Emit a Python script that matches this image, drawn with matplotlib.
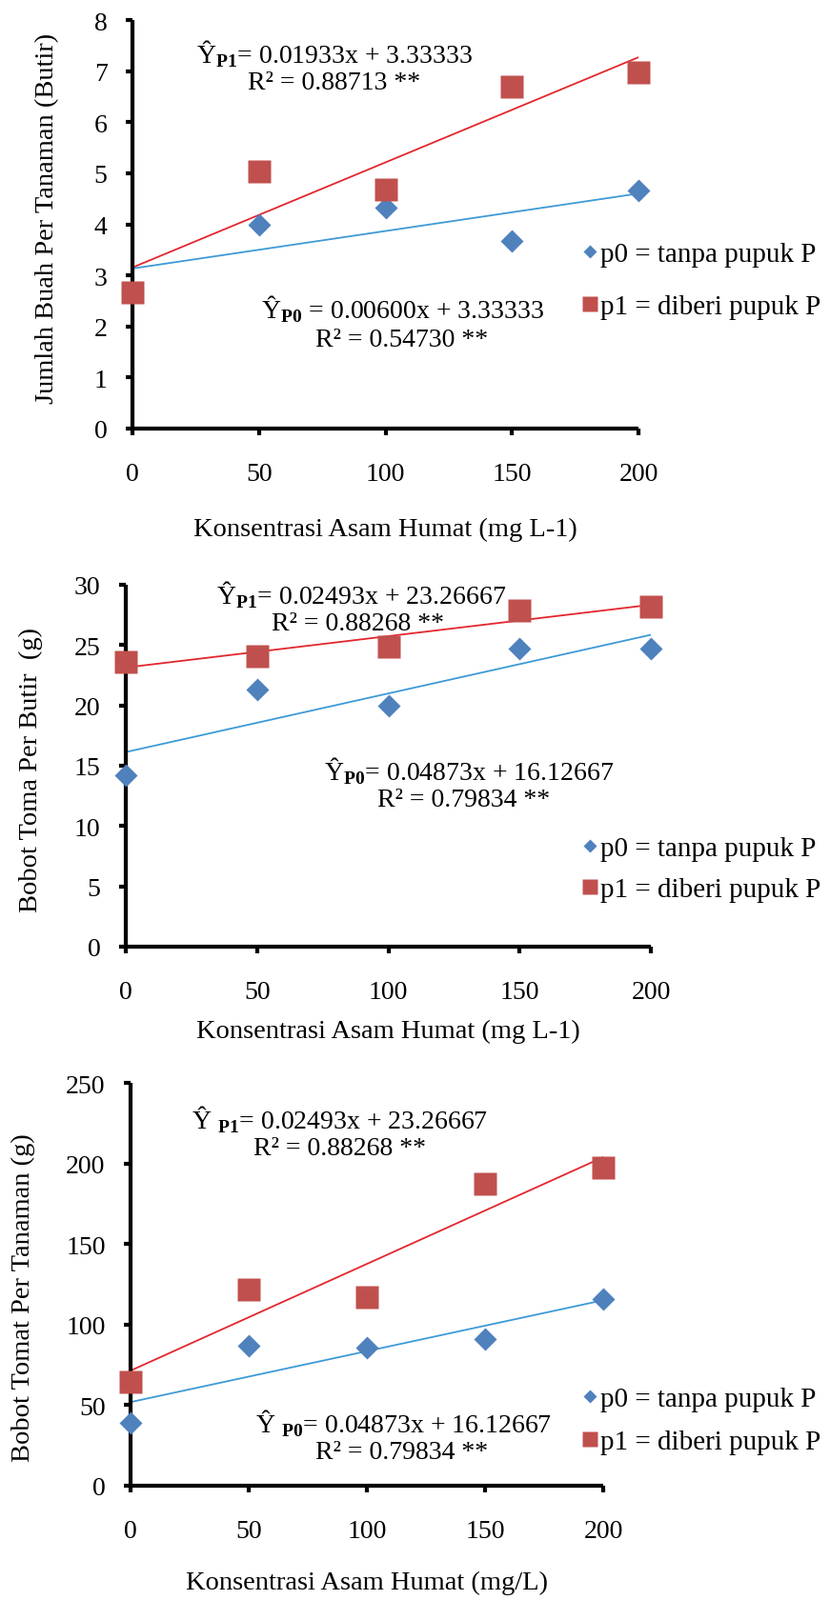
import numpy as np
import matplotlib.pyplot as plt
from matplotlib.lines import Line2D

plt.rcParams['font.family'] = ['Liberation Serif', 'DejaVu Serif']
plt.rcParams['mathtext.fontset'] = 'custom'
plt.rcParams['mathtext.rm'] = 'Liberation Serif'
plt.rcParams['mathtext.bf'] = 'Liberation Serif:bold'

# Konsentrasi asam humat
x = np.array([0, 50, 100, 150, 200])

# Panel 1: jumlah buah per tanaman
buah_p0 = [2.67, 4.00, 4.33, 3.67, 4.67]
buah_p1 = [2.67, 5.03, 4.68, 6.70, 6.98]

# Panel 2: bobot tomat per butir
butir_p0 = [14.25, 21.3, 20.0, 24.7, 24.7]
butir_p1 = [23.6, 24.1, 24.9, 27.9, 28.2]

# Panel 3: bobot tomat per tanaman
tanaman_p0 = [38.8, 86.6, 85.5, 91.0, 115.6]
tanaman_p1 = [64.7, 121.7, 116.9, 187.5, 197.4]

ylabels = ["Jumlah Buah Per Tanaman (Butir)",
           "Bobot Toma Per Butir  (g)",
           "Bobot Tomat Per Tanaman (g)"]
xlabels = ["Konsentrasi Asam Humat (mg L-1)",
           "Konsentrasi Asam Humat (mg L-1)",
           "Konsentrasi Asam Humat (mg/L)"]
eq_p1 = ["Ŷ$_{\\mathbf{P1}}$= 0.01933x + 3.33333",
         "Ŷ$_{\\mathbf{P1}}$= 0.02493x + 23.26667",
         "Ŷ $_{\\mathbf{P1}}$= 0.02493x + 23.26667"]
r2_p1 = ["R² = 0.88713 **", "R² = 0.88268 **", "R² = 0.88268 **"]
eq_p0 = ["Ŷ$_{\\mathbf{P0}}$ = 0.00600x + 3.33333",
         "Ŷ$_{\\mathbf{P0}}$= 0.04873x + 16.12667",
         "Ŷ $_{\\mathbf{P0}}$= 0.04873x + 16.12667"]
r2_p0 = ["R² = 0.54730 **", "R² = 0.79834 **", "R² = 0.79834 **"]
leg_labels = ["p0 = tanpa pupuk P", "p1 = diberi pupuk P"]

W, H = 871, 1681
fig = plt.figure(figsize=(W / 100, H / 100), dpi=100)

def fx(px):
    return px / W

def fy(py):
    return 1 - py / H

# posisi (piksel): kiri, kanan, atas, bawah
boxes = [(139, 670, 22, 451), (132, 683, 615, 995), (137, 633, 1138, 1561)]
ylims = [(0, 8, 1), (0, 30, 5), (0, 250, 50)]
datas = [(buah_p0, buah_p1), (butir_p0, butir_p1), (tanaman_p0, tanaman_p1)]
ylab_pos = [(-0.168, 0.517), (-0.18, 0.49), (-0.226, 0.47)]
xlab_y = [556, 1083, 1662]
eq_pos = [((351, 57), (351, 88), (422, 325), (422, 357)),
          ((379, 625), (375, 656), (492, 810), (487, 841)),
          ((357, 1176), (356, 1207), (424, 1495), (422, 1526))]
leg_pos = [(268, 323), (892, 935), (1470, 1515)]

blue = '#4F81BD'
red = '#C0504D'
blue_line = '#3D9AD6'
red_line = '#E3262D'

xx = np.linspace(0, 200, 50)
for i in range(3):
    l, r, t, b = boxes[i]
    ax = fig.add_axes([fx(l), fy(b), (r - l) / W, (b - t) / H])
    p0, p1 = datas[i]
    c0 = np.polyfit(x, p0, 1)
    c1 = np.polyfit(x, p1, 1)
    ax.plot(xx, np.polyval(c0, xx), color=blue_line, lw=1.3, zorder=2)
    ax.plot(xx, np.polyval(c1, xx), color=red_line, lw=1.3, zorder=2)
    ax.plot(x, p0, 'D', color=blue, ms=12.5, mec='none', clip_on=False, zorder=3)
    ax.plot(x, p1, 's', color=red, ms=17, mec='none', clip_on=False, zorder=4)

    y0, y1, step = ylims[i]
    ax.set_xlim(0, 200)
    ax.set_ylim(y0, y1)
    ax.set_xticks(x)
    ax.set_yticks(np.arange(y0, y1 + step, step))
    for s in ['top', 'right']:
        ax.spines[s].set_visible(False)
    for s in ['left', 'bottom']:
        ax.spines[s].set_linewidth(3)
        ax.spines[s].set_capstyle('butt')
    ax.tick_params(axis='x', direction='out', length=5, width=3, labelsize=20, pad=20)
    ax.tick_params(axis='y', direction='out', length=5, width=3, labelsize=20, pad=14)

    ax.set_ylabel(ylabels[i], fontsize=20.5)
    ax.yaxis.set_label_coords(*ylab_pos[i])
    ax.yaxis.label.set_va('center')
    ax.set_xlabel(xlabels[i], fontsize=20.5)
    ax.xaxis.set_label_coords(0.5, (b - xlab_y[i]) / (b - t))
    ax.xaxis.label.set_va('center')

    texts = [eq_p1[i], r2_p1[i], eq_p0[i], r2_p0[i]]
    for txt, (px, py) in zip(texts, eq_pos[i]):
        fig.text(fx(px), fy(py), txt, fontsize=20, ha='center', va='center')

    handles = [Line2D([], [], marker='D', color=blue, ls='none', ms=7, mec='none'),
               Line2D([], [], marker='s', color=red, ls='none', ms=11, mec='none')]
    for h, lab, py in zip(handles, leg_labels, leg_pos[i]):
        fig.legend([h], [lab], loc='center left', bbox_to_anchor=(fx(612), fy(py)),
                   frameon=False, fontsize=21, handlelength=0.5, handletextpad=0.1,
                   borderpad=0, borderaxespad=0)

fig.savefig('out.png', dpi=100)
